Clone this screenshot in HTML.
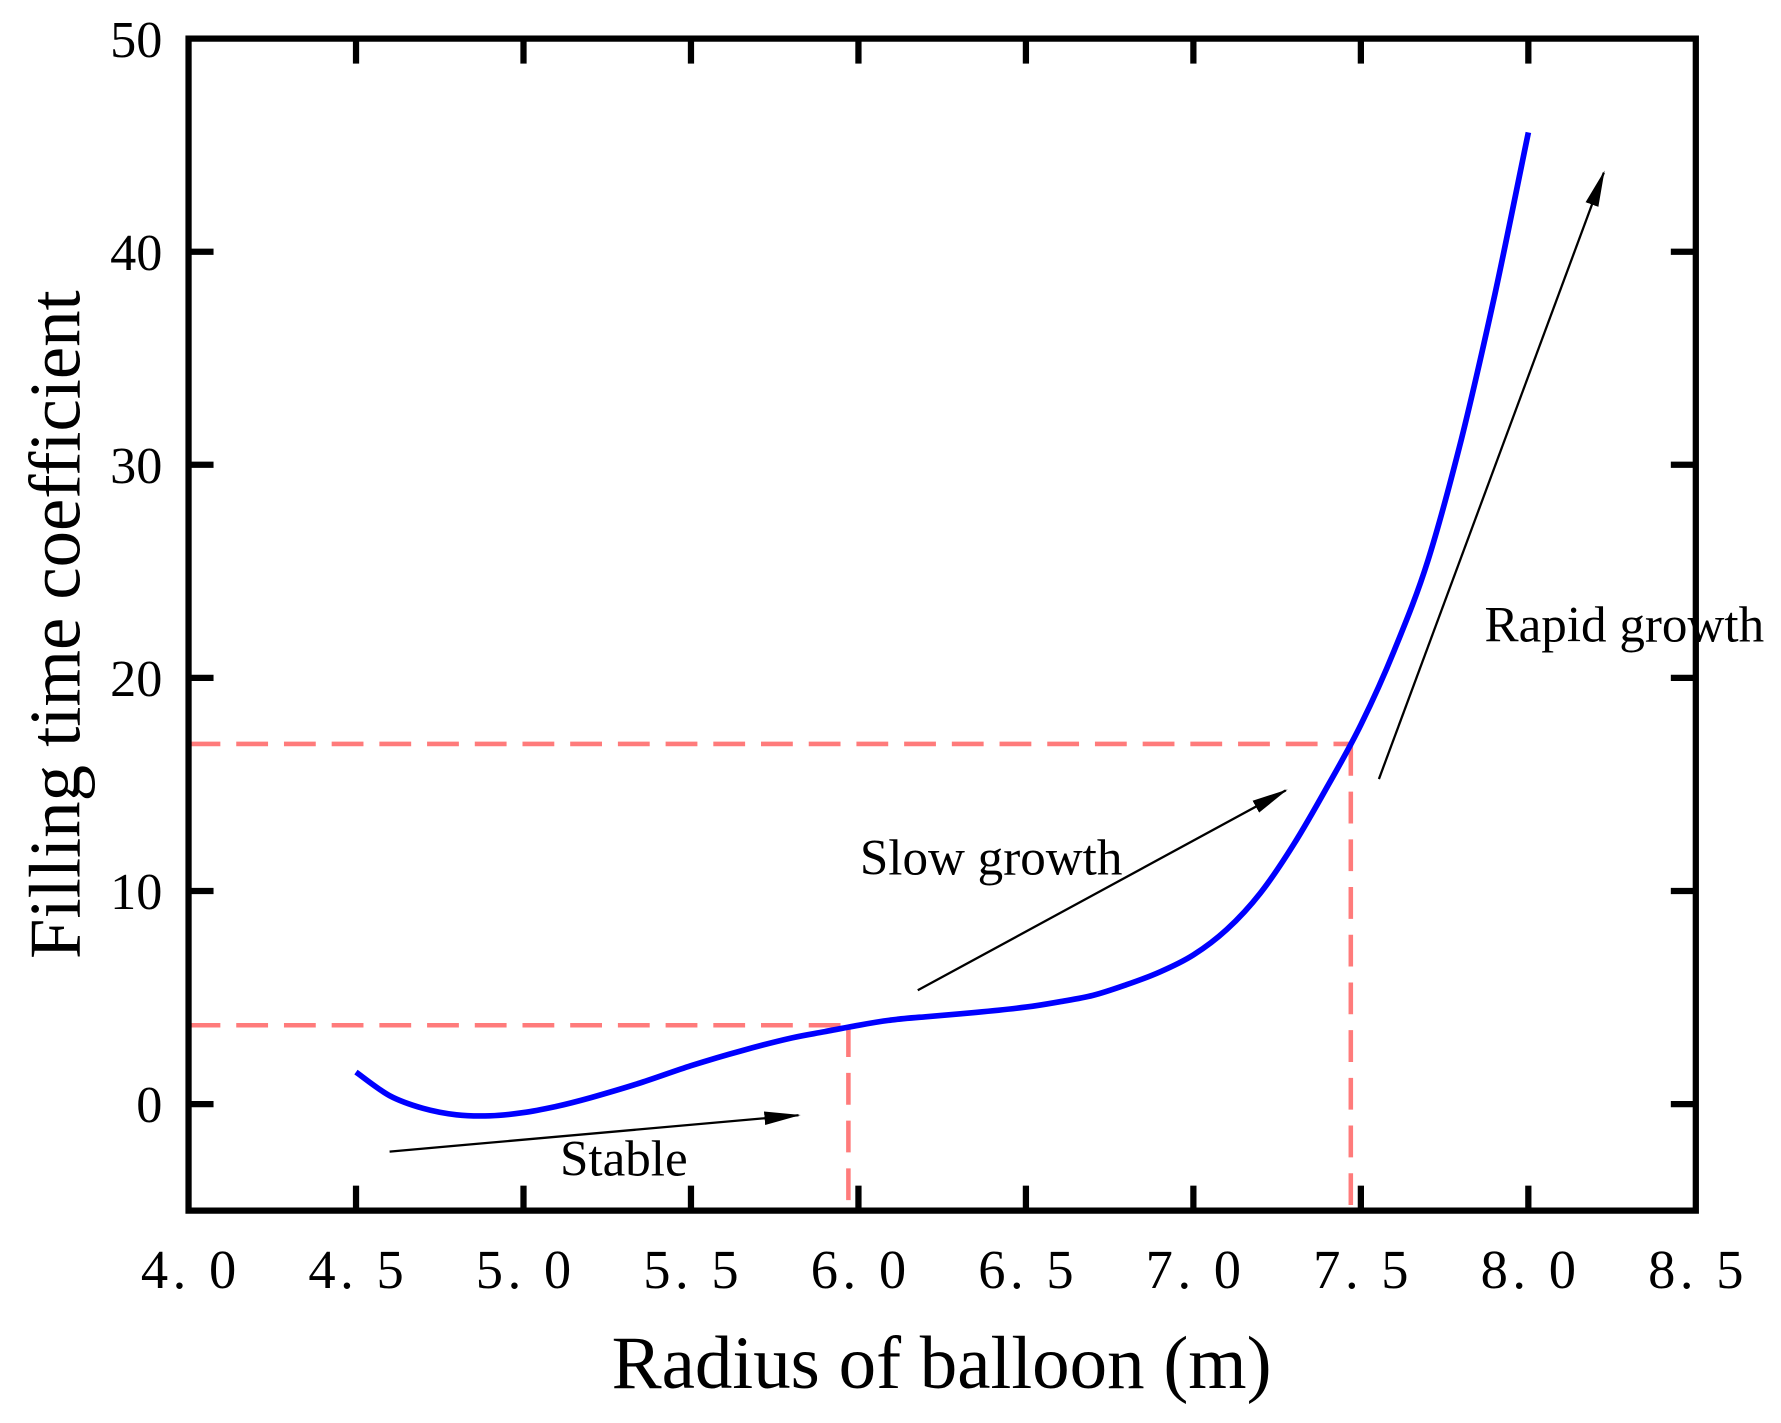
<!DOCTYPE html>
<html><head><meta charset="utf-8"><style>html,body{margin:0;padding:0;background:#fff}svg{display:block}</style></head>
<body>
<svg id="chart" width="1781" height="1423" viewBox="0 0 1568 1253" preserveAspectRatio="none" xmlns="http://www.w3.org/2000/svg" font-family="'Liberation Serif', serif">
<g id="marks"></g>
</svg>
<script>
const radius = [4.5,4.6,4.7,4.8,4.9,5.0,5.1,5.2,5.35,5.5,5.65,5.8,5.9,6.0,6.1,6.2,6.35,6.5,6.6,6.7,6.8,6.9,7.0,7.1,7.2,7.3,7.4,7.5,7.6,7.7,7.8,7.9,8.0];
const coeff  = [1.5,0.4,-0.2,-0.5,-0.55,-0.4,-0.1,0.3,1.0,1.8,2.5,3.1,3.4,3.7,3.95,4.1,4.3,4.55,4.8,5.1,5.6,6.2,7.0,8.2,9.9,12.2,14.9,17.8,21.3,25.5,31.2,38.0,45.6];
const xTicks = [4.0,4.5,5.0,5.5,6.0,6.5,7.0,7.5,8.0,8.5];
const xTickLabels = ["4. 0","4. 5","5. 0","5. 5","6. 0","6. 5","7. 0","7. 5","8. 0","8. 5"];
const yTicks = [0,10,20,30,40,50];
const yTickLabels = ["0","10","20","30","40","50"];
const markX = [5.97,7.47];
const markY = [3.7,16.9];
const L=166,R=1493,T=34,B=1066;
function xs(v){return L+(v-4.0)/(8.5-4.0)*(R-L);}
function ys(v){return T+(50-v)/(50-(-5))*(B-T);}
const NS="http://www.w3.org/2000/svg";
const g=document.getElementById('marks');
function mk(t,a,p){const e=document.createElementNS(NS,t);for(const k in a)e.setAttribute(k,a[k]);(p||g).appendChild(e);return e;}
const defs=mk('defs',{});
const m=mk('marker',{id:'ah',markerWidth:'32',markerHeight:'16',refX:'30',refY:'8',orient:'auto',markerUnits:'userSpaceOnUse'},defs);
mk('path',{d:'M0,2 L32,8 L0,14 Z',fill:'#000'},m);
for(let i=0;i<markX.length;i++){
  const h=mk('line',{x1:L,y1:ys(markY[i]),x2:xs(markX[i]),y2:ys(markY[i]),stroke:'#ff7b7b','stroke-width':4,'stroke-dasharray':'28 14'});
  
  
  const v=mk('line',{x1:xs(markX[i]),y1:ys(markY[i]),x2:xs(markX[i]),y2:B,stroke:'#ff7b7b','stroke-width':4,'stroke-dasharray':'28 14'});
  
  
}
const P=radius.map((r,i)=>[xs(r),ys(coeff[i])]);
let d='M'+P[0][0].toFixed(1)+','+P[0][1].toFixed(1);
for(let i=0;i<P.length-1;i++){
  const p0=P[Math.max(0,i-1)],p1=P[i],p2=P[i+1],p3=P[Math.min(P.length-1,i+2)];
  const c1=[p1[0]+(p2[0]-p0[0])/6,p1[1]+(p2[1]-p0[1])/6];
  const c2=[p2[0]-(p3[0]-p1[0])/6,p2[1]-(p3[1]-p1[1])/6];
  d+=' C'+c1[0].toFixed(1)+','+c1[1].toFixed(1)+' '+c2[0].toFixed(1)+','+c2[1].toFixed(1)+' '+p2[0].toFixed(1)+','+p2[1].toFixed(1);
}
const c=mk('path',{d:d,fill:'none',stroke:'#0000ff','stroke-width':5,'stroke-linejoin':'round'});


const arrows=[[343,1014,703,982,'stable-arrow'],[808,872,1132,696,'slow-growth-arrow'],[1214,686,1412,152,'rapid-growth-arrow']];
arrows.forEach(a=>{const e=mk('line',{x1:a[0],y1:a[1],x2:a[2],y2:a[3],stroke:'#000','stroke-width':2,'marker-end':'url(#ah)'});

});
[[493,1035,'Stable','stable-label'],[757,770,'Slow growth','slow-growth-label'],[1307,565,'Rapid growth','rapid-growth-label']].forEach(a=>{
  const t=mk('text',{x:a[0],y:a[1],'font-size':45,fill:'#000'});t.textContent=a[2];
  
  });
const f=mk('rect',{x:L,y:T,width:R-L,height:B-T,fill:'none',stroke:'#000','stroke-width':5.5});


xTicks.forEach((v,i)=>{
  const x=xs(v);
  if(i>0&&i<xTicks.length-1){mk('line',{x1:x,y1:B,x2:x,y2:B-22,stroke:'#000','stroke-width':5.5});mk('line',{x1:x,y1:T,x2:x,y2:T+22,stroke:'#000','stroke-width':5.5});}
  const t=mk('text',{x:x+2,y:1134,'font-size':48,'letter-spacing':'4','text-anchor':'middle',fill:'#000'});t.textContent=xTickLabels[i];
  
  
});
yTicks.forEach((v,i)=>{
  const y=ys(v);
  if(v<50){mk('line',{x1:L,y1:y,x2:L+22,y2:y,stroke:'#000','stroke-width':5.5});mk('line',{x1:R,y1:y,x2:R-22,y2:y,stroke:'#000','stroke-width':5.5});}
  const t=mk('text',{x:143,y:y+16,'font-size':46,'text-anchor':'end',fill:'#000'});t.textContent=yTickLabels[i];
  
  
});
const xt=mk('text',{x:829,y:1222,'font-size':66,'text-anchor':'middle',fill:'#000'});xt.textContent='Radius of balloon (m)';


const yt=mk('text',{x:0,y:0,'font-size':64,'text-anchor':'middle',fill:'#000',transform:'translate(70,550) rotate(-90)'});yt.textContent='Filling time coefficient';


</script>
</body></html>
